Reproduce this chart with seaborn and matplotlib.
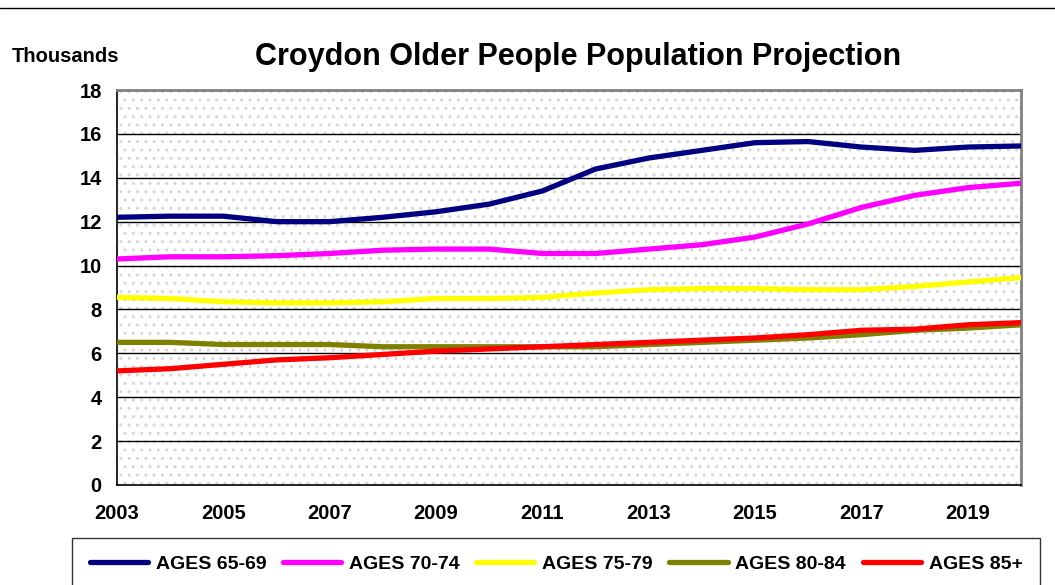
import matplotlib
matplotlib.use("Agg")
import matplotlib.pyplot as plt
import seaborn as sns
import pandas as pd
from matplotlib.patches import Rectangle
from matplotlib.lines import Line2D

years = list(range(2003, 2021))
ages_65_69 = [12.2, 12.25, 12.25, 12.0, 12.0, 12.2, 12.45, 12.8, 13.4, 14.4, 14.9, 15.25, 15.6, 15.65, 15.4, 15.25, 15.4, 15.45]
ages_70_74 = [10.3, 10.4, 10.4, 10.45, 10.55, 10.7, 10.75, 10.75, 10.55, 10.55, 10.75, 10.95, 11.3, 11.9, 12.65, 13.2, 13.55, 13.75]
ages_75_79 = [8.55, 8.5, 8.35, 8.3, 8.3, 8.35, 8.5, 8.5, 8.55, 8.75, 8.9, 8.95, 8.95, 8.9, 8.9, 9.05, 9.25, 9.45]
ages_80_84 = [6.5, 6.5, 6.4, 6.4, 6.4, 6.3, 6.3, 6.3, 6.3, 6.3, 6.4, 6.5, 6.6, 6.7, 6.85, 7.05, 7.15, 7.3]
ages_85_plus = [5.2, 5.3, 5.5, 5.7, 5.8, 5.95, 6.1, 6.2, 6.3, 6.4, 6.5, 6.6, 6.7, 6.85, 7.05, 7.1, 7.3, 7.4]
series_names = ["AGES 65-69", "AGES 70-74", "AGES 75-79", "AGES 80-84", "AGES 85+"]
colors = ["#000080", "#FF00FF", "#FFFF00", "#808000", "#FF0000"]
y_ticks = list(range(0, 19, 2))
x_tick_years = list(range(2003, 2021, 2))

rows = []
for name, vals in zip(series_names, [ages_65_69, ages_70_74, ages_75_79, ages_80_84, ages_85_plus]):
    for yr, v in zip(years, vals):
        rows.append({"Year": yr, "Value": v, "Series": name})
df = pd.DataFrame(rows)

sns.set_style("white")
plt.rcParams["font.family"] = ["Liberation Sans", "DejaVu Sans"]
plt.rcParams["font.weight"] = "bold"
plt.rcParams["text.color"] = "black"
plt.rcParams["xtick.color"] = "black"
plt.rcParams["ytick.color"] = "black"
plt.rcParams["hatch.linewidth"] = 1.0

fig = plt.figure(figsize=(10.55, 5.85), dpi=100)
ax = fig.add_axes([117/1055, 1 - 485/585, (1021-117)/1055, (485-90)/585])

# dotted background
ax.add_patch(Rectangle((0, 0), 1, 1, transform=ax.transAxes, facecolor="white",
                       edgecolor="#d6d6d6", linewidth=0, hatch="..", zorder=0))

sns.lineplot(data=df, x="Year", y="Value", hue="Series", palette=colors,
             linewidth=3.8, ax=ax, legend=False, zorder=3)

ax.set_xlim(2003, 2020)
ax.set_ylim(0, 18)
ax.set_yticks(y_ticks)
ax.set_xticks(x_tick_years)
ax.set_xticklabels([str(y) for y in x_tick_years], fontsize=14.5, fontweight="bold")
ax.set_yticklabels([str(y) for y in y_ticks], fontsize=14.5, fontweight="bold")
ax.set_xlabel("")
ax.set_ylabel("")
ax.grid(False)
for yv in y_ticks[1:-1]:
    ax.axhline(yv, color="black", linewidth=1.0, zorder=1)

ax.tick_params(axis="both", which="both", direction="out", length=5, width=1, colors="black", pad=6)
ax.tick_params(axis="x", pad=9)
for side in ["left", "bottom"]:
    ax.spines[side].set_color("black")
    ax.spines[side].set_linewidth(1.2)
for side in ["top", "right"]:
    ax.spines[side].set_color("#808080")
    ax.spines[side].set_linewidth(2)
    ax.spines[side].set_visible(True)

fig.text(578/1055, 1 - 57/585, "Croydon Older People Population Projection", ha="center", va="center",
         fontsize=22, fontweight="bold")
fig.text(12/1055, 1 - 57/585, "Thousands", ha="left", va="center", fontsize=14.5, fontweight="bold")

# top separator line
fig.add_artist(Line2D([0, 1], [1 - 8/585, 1 - 8/585], transform=fig.transFigure, color="black", linewidth=1))

handles = [Line2D([0], [0], color=c, linewidth=3.8) for c in colors]
leg = fig.legend(handles, series_names, loc="upper left", ncol=5, mode="expand",
                 bbox_to_anchor=(72/1055, 0, (1040-72)/1055, 1 - 538/585),
                 frameon=True, fancybox=False,
                 prop={"weight": "bold", "size": 14}, handlelength=3.0, columnspacing=0.5,
                 handletextpad=0.4, borderpad=0.9, borderaxespad=0)
leg.get_frame().set_edgecolor("black")
leg.get_frame().set_linewidth(1)

fig.savefig("out.png", dpi=100)
